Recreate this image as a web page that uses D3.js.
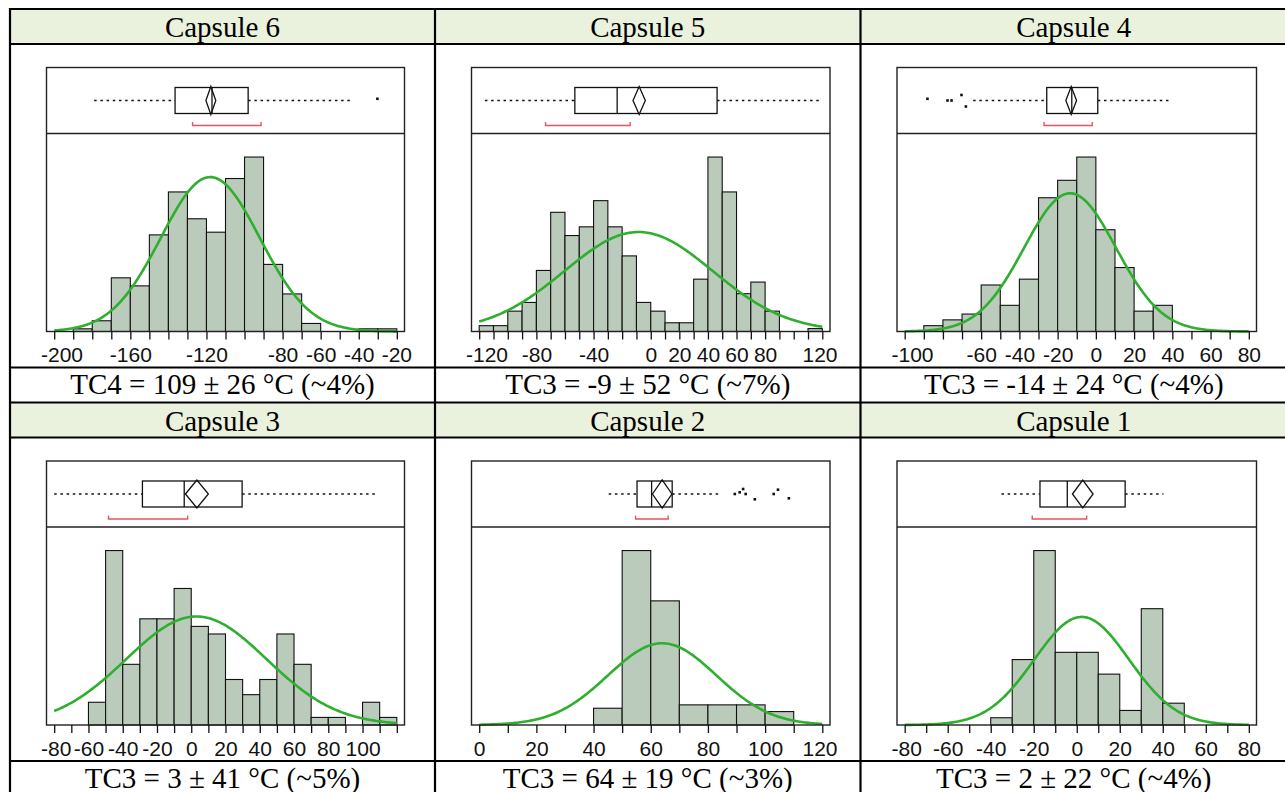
<!DOCTYPE html>
<html>
<head>
<meta charset="utf-8">
<script src="https://cdn.jsdelivr.net/npm/d3@7"></script>
<style>
  body { margin: 0; background: #fff; }
  svg { display: block; }
</style>
</head>
<body>
<script>
// panel order follows the table: top row 6,5,4 then 3,2,1
const capsules = ["Capsule 6", "Capsule 5", "Capsule 4", "Capsule 3", "Capsule 2", "Capsule 1"];
const captions = [
  "TC4 = 109 ± 26 °C (~4%)",
  "TC3 = -9 ± 52 °C (~7%)",
  "TC3 = -14 ± 24 °C (~4%)",
  "TC3 = 3 ± 41 °C (~5%)",
  "TC3 = 64 ± 19 °C (~3%)",
  "TC3 = 2 ± 22 °C (~4%)"
];

// first and last tick of each x axis (ticks every 10)
const tickRange = [[-200, -20], [-120, 120], [-100, 80], [-80, 120], [0, 120], [-80, 80]];
const tickLabels = [
  [-200, -160, -120, -80, -60, -40, -20],
  [-120, -80, -40, 0, 20, 40, 60, 80, 120],
  [-100, -60, -40, -20, 0, 20, 40, 60, 80],
  [-80, -60, -40, -20, 0, 20, 40, 60, 80, 100],
  [0, 20, 40, 60, 80, 100, 120],
  [-80, -60, -40, -20, 0, 20, 40, 60, 80]
];

// histogram counts, 10 degree bins starting at the first tick
const binWidth = 10;
const counts = [
  [0, 1, 4, 20, 17, 36, 52, 42, 37, 57, 65, 25, 14, 3, 0, 0, 1, 1],
  [2, 2, 7, 10, 21, 41, 33, 36, 45, 36, 26, 10, 7, 3, 3, 18, 60, 48, 13, 17, 7, 0, 0, 1],
  [0, 2, 4, 6, 16, 9, 18, 46, 52, 60, 35, 22, 7, 9, 0, 0, 0, 0],
  [0, 0, 3, 23, 8, 14, 14, 18, 13, 12, 6, 4, 6, 12, 8, 1, 1, 0, 3, 1],
  [0, 0, 0, 0, 5, 52, 37, 6, 6, 6, 4, 0],
  [0, 0, 0, 0, 1, 9, 24, 10, 10, 7, 2, 16, 3, 0, 0, 0]
];

// normal fit
const fitMean = [-118, -8.5, -13.5, 3, 64, 2.3];
const fitSd = [26, 52, 24, 41, 19, 22];

// outlier box plot: whisker low, Q1, median, Q3, whisker high
const boxStats = [
  [-179, -136.5, -117.1, -98.1, -43.5],
  [-116, -53.1, -23.5, 46.4, 119.4],
  [-64.2, -25.7, -12.6, 1.0, 39.0],
  [-80, -28.5, -4.1, 29.7, 107.6],
  [45.3, 55.2, 60.3, 67.5, 83.6],
  [-35, -17.1, -4.4, 22.5, 40.3]
];
const means = [-117.7, -8.1, -12.9, 3.3, 64.0, 2.8];
const meanCI = [2.6, 4.3, 2.8, 6.7, 3.4, 4.8];
const shortestHalf = [[-127.3, -91.3], [-73.6, -14.4], [-27.1, -1.9], [-48.3, -2.1], [54.7, 66.1], [-20.7, 4.6]];
const outliers = [
  [-30.2],
  [],
  [-88.1, -77.6, -75.5, -70.3, -68.0],
  [],
  [89.4, 91.1, 92.3, 93.2, 96.4, 103.0, 104.5, 108.3],
  []
];
const outlierJitter = [
  [-1.7],
  [],
  [-1.7, 0, 0, -5.5, 6],
  [],
  [0, -1.7, -5, 0, 5.3, 0, -4.3, 4.3],
  []
];

const width = 1285, height = 792;
const colEdges = [10, 435, 860.5, 1287];
const rowTop = [9, 402.5];
const headerH = 35, contentH = 323.5;
const barFill = "#bbcbbb", curveColor = "#2eaf2e", bracketColor = "#e8545f", headerFill = "#eaf1dd";

const svg = d3.select("body").append("svg")
  .attr("width", width)
  .attr("height", height);

svg.append("rect").attr("width", width).attr("height", height).attr("fill", "#fff");

// table backgrounds
rowTop.forEach((t) => {
  svg.append("rect")
    .attr("x", colEdges[0]).attr("y", t)
    .attr("width", 1290 - colEdges[0]).attr("height", headerH)
    .attr("fill", headerFill);
});

capsules.forEach((name, i) => {
  const c = i % 3, r = Math.floor(i / 3);
  const cx = (colEdges[c] + colEdges[c + 1]) / 2;
  const hTop = rowTop[r], hBot = hTop + headerH;
  const capTop = hBot + contentH;

  svg.append("text")
    .attr("x", cx).attr("y", hTop + 28)
    .attr("text-anchor", "middle")
    .attr("font-family", "'Liberation Serif', 'Times New Roman', serif")
    .attr("font-size", 29)
    .text(name);

  svg.append("text")
    .attr("x", cx).attr("y", capTop + 26.5)
    .attr("text-anchor", "middle")
    .attr("font-family", "'Liberation Serif', 'Times New Roman', serif")
    .attr("font-size", 29)
    .text(captions[i]);

  const fl = colEdges[c] + 36.5, fr = colEdges[c + 1] - 30.5;
  const top = hBot + 23.5, div = top + 66, bottom = top + 264;

  const [t0, t1] = tickRange[i];
  const x = d3.scaleLinear().domain([t0, t1]).range([fl + 7.7, fr - 7.7]);
  const maxCount = d3.max(counts[i]);
  const y = d3.scaleLinear().domain([0, maxCount * 1.135]).range([bottom, div]);

  const g = svg.append("g");

  // histogram
  const bins = counts[i].map((n, k) => ({ x0: t0 + k * binWidth, x1: t0 + (k + 1) * binWidth, n }))
    .filter((b) => b.n > 0);
  g.append("g")
    .selectAll("rect")
    .data(bins)
    .join("rect")
    .attr("x", (d) => x(d.x0))
    .attr("width", (d) => x(d.x1) - x(d.x0))
    .attr("y", (d) => y(d.n))
    .attr("height", (d) => bottom - y(d.n))
    .attr("fill", barFill)
    .attr("stroke", "#111")
    .attr("stroke-width", 1.1);

  // normal curve
  const N = d3.sum(counts[i]);
  const m = fitMean[i], sd = fitSd[i];
  const dens = (v) => N * binWidth / (sd * Math.sqrt(2 * Math.PI)) * Math.exp(-0.5 * ((v - m) / sd) ** 2);
  const xs = d3.range(0, 201).map((k) => t0 + (t1 - t0) * k / 200);
  g.append("path")
    .datum(xs)
    .attr("fill", "none")
    .attr("stroke", curveColor)
    .attr("stroke-width", 2.6)
    .attr("stroke-linejoin", "round")
    .attr("d", d3.line().x((v) => x(v)).y((v) => y(dens(v))));

  // frame
  g.append("rect")
    .attr("x", fl).attr("y", top)
    .attr("width", fr - fl).attr("height", bottom - top)
    .attr("fill", "none")
    .attr("stroke", "#222")
    .attr("stroke-width", 1.4);
  g.append("line")
    .attr("x1", fl).attr("x2", fr)
    .attr("y1", div).attr("y2", div)
    .attr("stroke", "#222")
    .attr("stroke-width", 1.4);

  // x axis
  const axis = d3.axisBottom(x)
    .tickValues(d3.range(t0, t1 + 1, 10))
    .tickSize(8)
    .tickPadding(8)
    .tickFormat((d) => (tickLabels[i].includes(d) ? String(d) : ""));
  const ax = g.append("g")
    .attr("transform", `translate(0,${bottom})`)
    .call(axis);
  ax.select(".domain").remove();
  ax.selectAll(".tick line").attr("stroke", "#111").attr("stroke-width", 1.3);
  ax.selectAll(".tick text")
    .attr("font-family", "'Liberation Sans', Arial, sans-serif")
    .attr("font-size", 21)
    .attr("fill", "#111");
  // keep the end labels inside the panel
  ax.selectAll(".tick").each(function (d) {
    const t = d3.select(this).select("text");
    const w = t.node().getComputedTextLength();
    if (!w) return;
    const px = x(d);
    let shift = 0;
    if (px - w / 2 < fl - 6) shift = fl - 6 - (px - w / 2);
    if (px + w / 2 > fr + 7) shift = fr + 7 - (px + w / 2);
    t.attr("x", shift);
  });

  // box plot
  const cy = top + 33;
  const [lo, q1, med, q3, hi] = boxStats[i];
  const bp = g.append("g").attr("stroke", "#111").attr("stroke-width", 1.3);
  bp.append("line")
    .attr("x1", x(lo)).attr("x2", x(q1)).attr("y1", cy).attr("y2", cy)
    .attr("stroke-dasharray", "2.5,3.7");
  bp.append("line")
    .attr("x1", x(q3)).attr("x2", x(hi)).attr("y1", cy).attr("y2", cy)
    .attr("stroke-dasharray", "2.5,3.7");
  bp.append("rect")
    .attr("x", x(q1)).attr("y", cy - 13)
    .attr("width", x(q3) - x(q1)).attr("height", 26)
    .attr("fill", "#fff");
  bp.append("line")
    .attr("x1", x(med)).attr("x2", x(med)).attr("y1", cy - 13).attr("y2", cy + 13);
  const mu = means[i], ci = meanCI[i];
  bp.append("path")
    .attr("fill", "none")
    .attr("d", `M${x(mu - ci)},${cy}L${x(mu)},${cy - 14}L${x(mu + ci)},${cy}L${x(mu)},${cy + 14}Z`);

  bp.selectAll("rect.out")
    .data(outliers[i])
    .join("rect")
    .attr("class", "out")
    .attr("x", (d) => x(d) - 1.3)
    .attr("y", (d, k) => cy + outlierJitter[i][k] - 1.3)
    .attr("width", 2.6).attr("height", 2.6)
    .attr("fill", "#111")
    .attr("stroke", "none");

  const [sa, sb] = shortestHalf[i];
  const by = top + 58;
  g.append("path")
    .attr("fill", "none")
    .attr("stroke", bracketColor)
    .attr("stroke-width", 1.4)
    .attr("d", `M${x(sa)},${by - 3.5}V${by}H${x(sb)}V${by - 3.5}`);
});

// table grid
const hLines = [9, 44, 367.5, 402.5, 437.5, 761];
svg.append("g")
  .selectAll("line")
  .data(hLines)
  .join("line")
  .attr("x1", 9).attr("x2", 1290)
  .attr("y1", (d) => d).attr("y2", (d) => d)
  .attr("stroke", "#000").attr("stroke-width", 2.2);
svg.append("g")
  .selectAll("line")
  .data(colEdges.slice(0, 3))
  .join("line")
  .attr("x1", (d) => d).attr("x2", (d) => d)
  .attr("y1", 8).attr("y2", 800)
  .attr("stroke", "#000").attr("stroke-width", 2.2);
</script>
</body>
</html>
